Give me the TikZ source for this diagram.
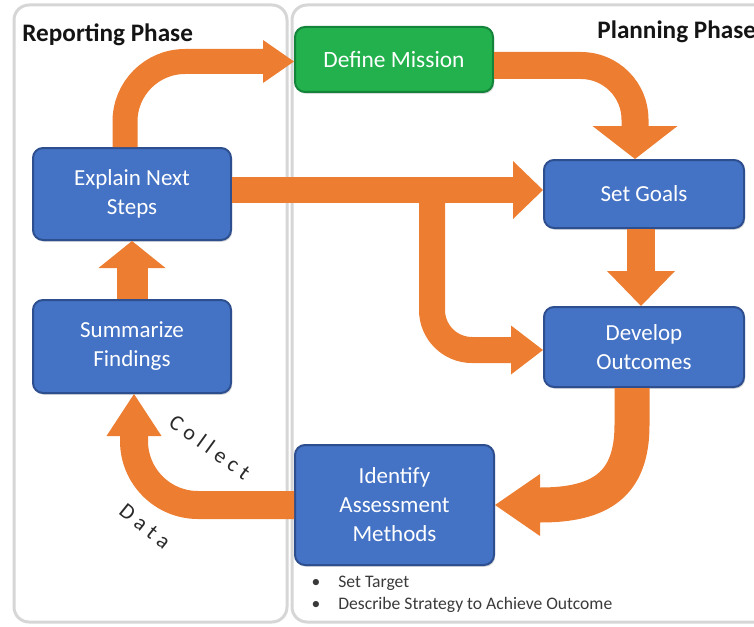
\documentclass[tikz,border=0pt]{standalone}
\usepackage{fontspec}
\setmainfont{Carlito}
\usetikzlibrary{arrows.meta,calc,shadows}
\definecolor{orng}{HTML}{ED7D31}
\definecolor{myblue}{HTML}{4472C4}
\definecolor{blueedge}{HTML}{2E4F8F}
\definecolor{mygreen}{HTML}{22B14C}
\definecolor{greenedge}{HTML}{13843A}
\definecolor{panelgray}{HTML}{D6D6D6}
\definecolor{headtext}{HTML}{141414}
\definecolor{lbltext}{HTML}{2A2A2A}
\definecolor{bultext}{HTML}{3A3A3A}
\newcommand{\lsp}{\hspace{2.75pt}}
\tikzset{
  panel/.style={draw=panelgray, line width=1.5pt, rounded corners=7.5pt},
  box/.style={draw=blueedge, line width=1pt, fill=myblue, rounded corners=5pt,
    text=white, font=\fontsize{11.5}{14.5}\selectfont, align=center, inner sep=0pt,
    drop shadow={shadow xshift=0.6pt, shadow yshift=-0.9pt, opacity=0.3}},
  greenbox/.style={box, draw=greenedge, fill=mygreen, font=\fontsize{11.7}{14}\selectfont},
  flow/.style n args={3}{draw=orng, line width=#1,
    -{Triangle[length=#2 0 0, width=#3 0 0, line width=0pt 0 0]}},
  head/.style={font=\bfseries\fontsize{12.6}{15}\selectfont, text=headtext, inner sep=0pt, anchor=base west},
  lbl/.style={font=\fontsize{11}{13}\selectfont, text=lbltext, inner sep=0pt},
  bultxt/.style={font=\fontsize{8.8}{10}\selectfont, text=bultext, inner sep=0pt},
}
\begin{document}
\begin{tikzpicture}[x=0.5pt,y=-0.5pt]
\useasboundingbox (0,0) rectangle (754,626);
% panels
\draw[panel] (14,5) rectangle (287,622);
\draw[panel] (292,5) rectangle (790,622);
\node[head] (rep) at (22,42) {Reporting Phase};
\node[head] (plan) at (597,39) {Planning Phase};
% boxes
\node[greenbox, minimum width=99pt, minimum height=32.5pt] (define) at (394,59.5) {Define Mission};
\node[box, minimum width=99pt, minimum height=46pt] (explain) at (132,194) {Explain Next\\Steps};
\node[box, minimum width=99pt, minimum height=46.5pt] (summ) at (132,346.5) {Summarize\\Findings};
\node[box, minimum width=100pt, minimum height=34pt] (goals) at (644,194) {Set Goals};
\node[box, minimum width=100pt, minimum height=40pt] (develop) at (644,347) {Develop\\Outcomes};
\node[box, minimum width=99.5pt, minimum height=60pt] (identify) at (394.5,505) {Identify\\Assessment\\Methods};
% arrows
\draw[flow={12.5pt}{15.5pt}{21.5pt}, rounded corners=30pt]
  ($(explain.north)+(-7,0)$) |- ($(define.west)+(0,2)$);
\draw[flow={13.5pt}{16.5pt}{42.5pt}, rounded corners=27pt]
  ($(define.east)+(0,6)$) -| ($(goals.north)+(-9,0)$);
\draw[flow={13pt}{15pt}{29pt}]
  ($(explain.east)+(0,-4)$) -- ($(goals.west)+(0,-4)$);
\coordinate (branch) at (432,190);
\draw[flow={13pt}{16pt}{24.5pt}, rounded corners=20pt]
  (branch) |- ($(develop.west)+(0,3)$);
\draw[flow={14pt}{17.5pt}{34pt}]
  ($(goals.south)+(-3,0)$) -- ($(develop.north)+(-3,0)$);
\draw[flow={17.5pt}{22.5pt}{31pt}]
  ($(develop.south)+(-12,0)$) -- (632,425) .. controls (632,485) and (600,505) .. (identify.east);
\draw[flow={14pt}{21pt}{27.5pt}, rounded corners=32pt]
  (identify.west) -| ($(summ.south)+(2,0)$);
\draw[flow={15.5pt}{13.5pt}{33.5pt}]
  (summ.north) -- (explain.south);
% Collect Data labels
\node[lbl, rotate=-36] (collect) at (210,447) {C\lsp o\lsp l\lsp l\lsp e\lsp c\lsp t};
\node[lbl, rotate=-39] (data) at (145,526) {D\lsp a\lsp t\lsp a};
% bullets
\node[bultxt] (bu1) at (316,583) {\textbullet};
\node[bultxt, anchor=west] (t1) at (338,583) {Set Target};
\node[bultxt] (bu2) at (316,605) {\textbullet};
\node[bultxt, anchor=west] (t2) at (338,605) {Describe Strategy to Achieve Outcome};
\end{tikzpicture}
\end{document}
